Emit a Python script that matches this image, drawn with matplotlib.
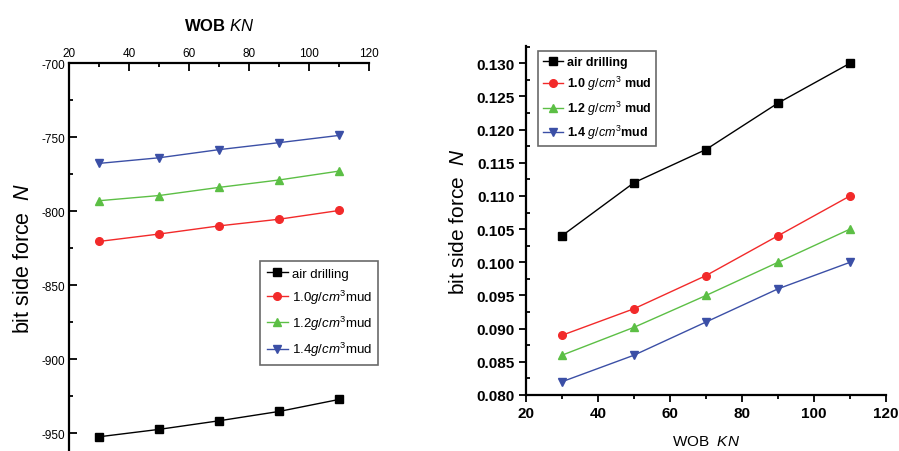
import matplotlib
matplotlib.use("Agg")
import matplotlib.pyplot as plt
from matplotlib.ticker import MultipleLocator, FormatStrFormatter

plt.rcParams['font.family'] = ['Liberation Sans', 'DejaVu Sans']
plt.rcParams['mathtext.fontset'] = 'custom'
plt.rcParams['mathtext.it'] = 'Liberation Sans:italic'
plt.rcParams['mathtext.rm'] = 'Liberation Sans'
plt.rcParams['mathtext.bf'] = 'Liberation Sans:bold'
plt.rcParams['axes.unicode_minus'] = False

# data
wob = [30, 50, 70, 90, 110]
left_labels = ["air drilling", "1.0$g/cm^3$mud", "1.2$g/cm^3$mud", "1.4$g/cm^3$mud"]
right_labels = ["air drilling", "1.0 $g/cm^3$ mud", "1.2 $g/cm^3$ mud", "1.4 $g/cm^3$mud"]
left_air = [-952.4, -947.4, -941.6, -935.3, -927.2]
left_10 = [-820.5, -815.5, -810.0, -805.5, -799.6]
left_12 = [-793.0, -789.5, -784.0, -779.0, -773.0]
left_14 = [-767.8, -764.0, -758.5, -753.8, -748.9]
right_air = [0.104, 0.112, 0.117, 0.124, 0.130]
right_10 = [0.089, 0.093, 0.098, 0.104, 0.110]
right_12 = [0.086, 0.0902, 0.095, 0.100, 0.105]
right_14 = [0.082, 0.086, 0.091, 0.096, 0.100]

colors = ["black", "#f22a2a", "#5cbf45", "#3b4fa6"]
markers = ["s", "o", "^", "v"]

fig = plt.figure(figsize=(8.99, 4.52), dpi=100)
W, H = 899, 452

# left panel: x axis on top
ax1 = fig.add_axes([69 / W, 0, 300 / W, 1 - 64 / H])
for ys, c, m, lab in zip([left_air, left_10, left_12, left_14], colors, markers, left_labels):
    ax1.plot(wob, ys, color=c, marker=m, ms=5.5, lw=1, label=lab)
ax1.set_xlim(20, 120)
ax1.set_ylim(-962, -700)
ax1.xaxis.set_major_locator(MultipleLocator(20))
ax1.xaxis.set_minor_locator(MultipleLocator(10))
ax1.yaxis.set_major_locator(MultipleLocator(50))
ax1.yaxis.set_minor_locator(MultipleLocator(25))
ax1.xaxis.tick_top()
ax1.xaxis.set_label_position('top')
for s in ['right', 'bottom']:
    ax1.spines[s].set_visible(False)
for s in ['left', 'top']:
    ax1.spines[s].set_linewidth(1.6)
ax1.tick_params(which='both', direction='in', width=1.3, labelsize=8.5, pad=3)
ax1.tick_params(which='major', length=6)
ax1.tick_params(which='minor', length=3)
ax1.set_xlabel("WOB $KN$", fontsize=12, fontweight='bold', labelpad=12)
ax1.set_ylabel("bit side force  $N$", fontsize=15.5, labelpad=5)
leg1 = ax1.legend(loc='upper left', bbox_to_anchor=(191 / 300, 1 - 198 / 388), fontsize=9.5,
                  frameon=True, fancybox=False, edgecolor='#444444', handlelength=1.6,
                  borderpad=0.5, labelspacing=0.6, handletextpad=0.3, borderaxespad=0)
leg1.get_frame().set_linewidth(1.2)

# right panel
ax2 = fig.add_axes([526 / W, 1 - 396 / H, 360 / W, 349 / H])
for ys, c, m, lab in zip([right_air, right_10, right_12, right_14], colors, markers, right_labels):
    ax2.plot(wob, ys, color=c, marker=m, ms=5.5, lw=1, label=lab)
ax2.set_xlim(20, 120)
ax2.set_ylim(0.080, 0.1326)
ax2.xaxis.set_major_locator(MultipleLocator(20))
ax2.xaxis.set_minor_locator(MultipleLocator(10))
ax2.yaxis.set_major_locator(MultipleLocator(0.005))
ax2.yaxis.set_minor_locator(MultipleLocator(0.0025))
ax2.yaxis.set_major_formatter(FormatStrFormatter('%.3f'))
for s in ['right', 'top']:
    ax2.spines[s].set_visible(False)
for s in ['left', 'bottom']:
    ax2.spines[s].set_linewidth(1.6)
ax2.tick_params(which='both', direction='out', width=1.3, labelsize=11, pad=3)
ax2.tick_params(which='major', length=5)
ax2.tick_params(which='minor', length=3)
ax2.tick_params(axis='y', which='minor', direction='in')
for t in ax2.get_xticklabels() + ax2.get_yticklabels():
    t.set_fontweight('bold')
ax2.set_xlabel("WOB  $KN$", fontsize=11, labelpad=10)
ax2.set_ylabel("bit side force  $N$", fontsize=15, labelpad=6)
leg2 = ax2.legend(loc='upper left', bbox_to_anchor=(12 / 360, 1 - 5 / 349),
                  prop={'size': 9, 'weight': 'bold'},
                  frameon=True, fancybox=False, edgecolor='#444444', handlelength=1.6,
                  borderpad=0.4, labelspacing=0.5, handletextpad=0.3, borderaxespad=0)
leg2.get_frame().set_linewidth(1.2)

fig.savefig("out.png", dpi=100)
